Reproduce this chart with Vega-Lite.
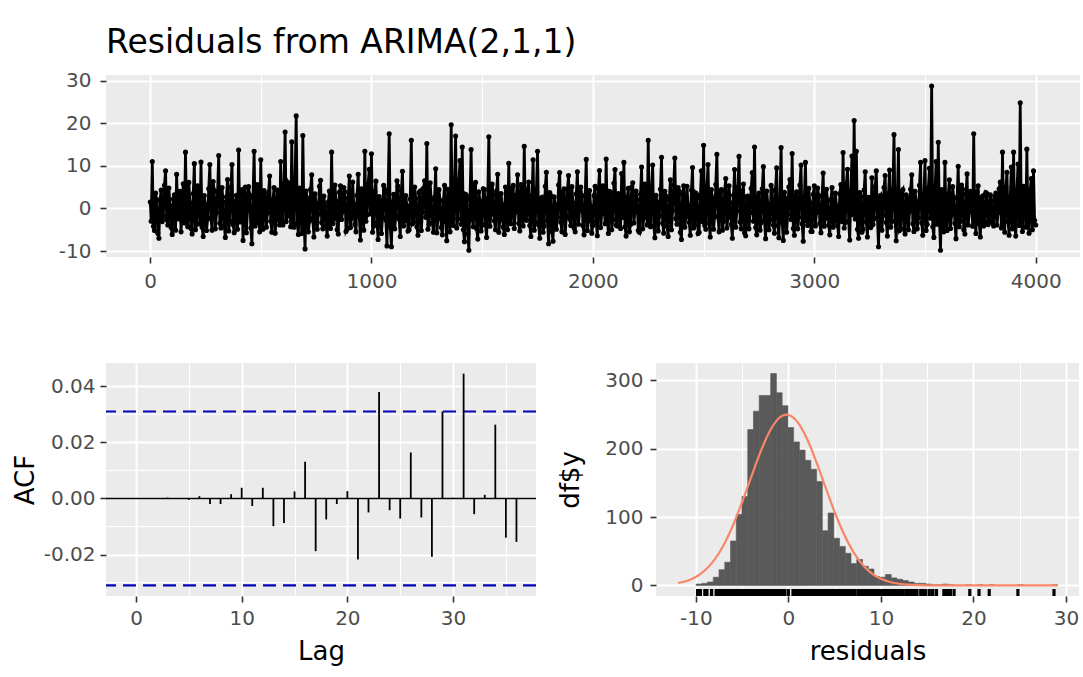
{
  "$schema": "https://vega.github.io/schema/vega-lite/v6.json",
  "background": "white",
  "padding": {"left": 4, "top": 26, "right": 3, "bottom": 5},
  "datasets": {
    "res": [
      {"t":1,"r":1.5},
      {"t":10,"r":11.0},{"t":20,"r":-5.2},{"t":30,"r":2.1},{"t":40,"r":-7.0},{"t":50,"r":4.3},{"t":60,"r":-1.8},{"t":70,"r":8.8},{"t":80,"r":-3.9},{"t":90,"r":0.7},{"t":100,"r":-6.1},
      {"t":110,"r":3.2},{"t":120,"r":8.0},{"t":130,"r":-2.5},{"t":140,"r":-5.5},{"t":150,"r":5.8},{"t":160,"r":13.2},{"t":170,"r":-4.3},{"t":180,"r":1.4},{"t":190,"r":-6.0},{"t":200,"r":10.5},
      {"t":210,"r":-3.8},{"t":220,"r":2.7},{"t":230,"r":10.9},{"t":240,"r":-6.6},{"t":250,"r":0.9},{"t":260,"r":-2.5},{"t":270,"r":10.3},{"t":280,"r":-5.1},{"t":290,"r":4.2},{"t":300,"r":-1.0},
      {"t":310,"r":12.4},{"t":320,"r":-4.6},{"t":330,"r":1.5},{"t":340,"r":-6.8},{"t":350,"r":6.8},{"t":360,"r":-2.9},{"t":370,"r":10.3},{"t":380,"r":-5.7},{"t":390,"r":3.1},{"t":400,"r":13.7},
      {"t":410,"r":-2.2},{"t":420,"r":-7.5},{"t":430,"r":5.0},{"t":440,"r":-0.4},{"t":450,"r":3.2},{"t":460,"r":-8.3},{"t":470,"r":13.4},{"t":480,"r":-3.3},{"t":490,"r":1.6},{"t":500,"r":11.4},
      {"t":510,"r":-4.9},{"t":520,"r":2.8},{"t":530,"r":-1.1},{"t":540,"r":7.6},{"t":550,"r":-5.6},{"t":560,"r":4.9},{"t":570,"r":-2.7},{"t":580,"r":0.0},{"t":590,"r":11.0},{"t":600,"r":-3.9},
      {"t":610,"r":17.9},{"t":620,"r":-1.8},{"t":630,"r":5.5},{"t":640,"r":15.6},{"t":650,"r":-4.4},{"t":660,"r":21.7},{"t":670,"r":-6.1},{"t":680,"r":3.1},{"t":690,"r":17.1},{"t":700,"r":-9.5},
      {"t":710,"r":2.4},{"t":720,"r":-3.0},{"t":730,"r":7.9},{"t":740,"r":-6.7},{"t":750,"r":1.2},{"t":760,"r":-1.3},{"t":770,"r":6.6},{"t":780,"r":-4.8},{"t":790,"r":0.5},{"t":800,"r":-6.5},
      {"t":810,"r":4.1},{"t":820,"r":13.2},{"t":830,"r":-2.4},{"t":840,"r":1.7},{"t":850,"r":-6.0},{"t":860,"r":5.3},{"t":870,"r":-0.7},{"t":880,"r":3.9},{"t":890,"r":-4.9},{"t":900,"r":7.6},
      {"t":910,"r":-2.3},{"t":920,"r":1.1},{"t":930,"r":-5.5},{"t":940,"r":8.0},{"t":950,"r":-7.4},{"t":960,"r":2.2},{"t":970,"r":13.4},{"t":980,"r":-1.5},{"t":990,"r":9.2},{"t":1000,"r":12.8},
      {"t":1010,"r":-4.1},{"t":1020,"r":6.4},{"t":1030,"r":-7.3},{"t":1040,"r":1.9},{"t":1050,"r":-2.0},{"t":1060,"r":4.5},{"t":1070,"r":-8.8},{"t":1080,"r":17.5},{"t":1090,"r":-9.0},{"t":1100,"r":3.3},
      {"t":1110,"r":-1.7},{"t":1120,"r":5.2},{"t":1130,"r":-6.6},{"t":1140,"r":8.7},{"t":1150,"r":-2.9},{"t":1160,"r":0.6},{"t":1170,"r":-5.0},{"t":1180,"r":16.0},{"t":1190,"r":-3.2},{"t":1200,"r":2.4},
      {"t":1210,"r":-6.3},{"t":1220,"r":4.1},{"t":1230,"r":-0.9},{"t":1240,"r":6.5},{"t":1250,"r":15.2},{"t":1260,"r":-3.8},{"t":1270,"r":2.0},{"t":1280,"r":-5.6},{"t":1290,"r":9.3},{"t":1300,"r":-2.4},
      {"t":1310,"r":1.8},{"t":1320,"r":-6.2},{"t":1330,"r":5.4},{"t":1340,"r":-7.6},{"t":1350,"r":2.6},{"t":1360,"r":19.6},{"t":1370,"r":-4.0},{"t":1380,"r":17.0},{"t":1390,"r":-2.5},{"t":1400,"r":11.2},
      {"t":1410,"r":14.4},{"t":1420,"r":-7.8},{"t":1430,"r":3.0},{"t":1440,"r":-9.8},{"t":1450,"r":13.8},{"t":1460,"r":-4.3},{"t":1470,"r":6.1},{"t":1480,"r":-7.2},{"t":1490,"r":1.7},{"t":1500,"r":-3.9},
      {"t":1510,"r":4.4},{"t":1520,"r":-6.8},{"t":1530,"r":16.8},{"t":1540,"r":-1.4},{"t":1550,"r":3.2},{"t":1560,"r":-5.0},{"t":1570,"r":8.0},{"t":1580,"r":-2.8},{"t":1590,"r":0.9},{"t":1600,"r":-6.1},
      {"t":1610,"r":2.3},{"t":1620,"r":10.6},{"t":1630,"r":-3.6},{"t":1640,"r":5.4},{"t":1650,"r":-0.9},{"t":1660,"r":7.9},{"t":1670,"r":-5.3},{"t":1680,"r":1.5},{"t":1690,"r":14.6},{"t":1700,"r":-2.8},
      {"t":1710,"r":6.2},{"t":1720,"r":-6.6},{"t":1730,"r":11.4},{"t":1740,"r":-3.2},{"t":1750,"r":13.4},{"t":1760,"r":-7.0},{"t":1770,"r":2.6},{"t":1780,"r":-4.1},{"t":1790,"r":8.5},{"t":1800,"r":-8.3},
      {"t":1810,"r":3.0},{"t":1820,"r":-7.7},{"t":1830,"r":0.8},{"t":1840,"r":-2.1},{"t":1850,"r":8.4},{"t":1860,"r":-5.5},{"t":1870,"r":4.6},{"t":1880,"r":-1.7},{"t":1890,"r":7.7},{"t":1900,"r":-4.0},
      {"t":1910,"r":1.3},{"t":1920,"r":-5.5},{"t":1930,"r":8.6},{"t":1940,"r":-0.4},{"t":1950,"r":3.1},{"t":1960,"r":-6.2},{"t":1970,"r":11.5},{"t":1980,"r":-2.9},{"t":1990,"r":0.6},{"t":2000,"r":-4.0},
      {"t":2010,"r":5.2},{"t":2020,"r":-6.4},{"t":2030,"r":8.9},{"t":2040,"r":-1.3},{"t":2050,"r":2.4},{"t":2060,"r":11.6},{"t":2070,"r":-5.9},{"t":2080,"r":3.8},{"t":2090,"r":-2.7},{"t":2100,"r":9.1},
      {"t":2110,"r":-4.1},{"t":2120,"r":1.4},{"t":2130,"r":8.2},{"t":2140,"r":10.8},{"t":2150,"r":-6.5},{"t":2160,"r":4.7},{"t":2170,"r":-3.8},{"t":2180,"r":6.0},{"t":2190,"r":-0.9},{"t":2200,"r":2.1},
      {"t":2210,"r":-5.6},{"t":2220,"r":9.7},{"t":2230,"r":-2.2},{"t":2240,"r":3.3},{"t":2250,"r":16.0},{"t":2260,"r":-4.3},{"t":2270,"r":10.2},{"t":2280,"r":-6.9},{"t":2290,"r":1.5},{"t":2300,"r":-1.8},
      {"t":2310,"r":12.0},{"t":2320,"r":-5.8},{"t":2330,"r":2.9},{"t":2340,"r":-6.6},{"t":2350,"r":6.7},{"t":2360,"r":-0.5},{"t":2370,"r":11.8},{"t":2380,"r":-3.7},{"t":2390,"r":4.0},{"t":2400,"r":-7.3},
      {"t":2410,"r":5.3},{"t":2420,"r":-2.0},{"t":2430,"r":0.8},{"t":2440,"r":-6.3},{"t":2450,"r":9.6},{"t":2460,"r":-3.9},{"t":2470,"r":3.2},{"t":2480,"r":-5.6},{"t":2490,"r":8.8},{"t":2500,"r":14.8},
      {"t":2510,"r":-4.9},{"t":2520,"r":10.3},{"t":2530,"r":-6.7},{"t":2540,"r":2.5},{"t":2550,"r":-1.8},{"t":2560,"r":12.7},{"t":2570,"r":-5.5},{"t":2580,"r":4.4},{"t":2590,"r":-3.1},{"t":2600,"r":7.0},
      {"t":2610,"r":-2.2},{"t":2620,"r":1.3},{"t":2630,"r":-7.0},{"t":2640,"r":9.1},{"t":2650,"r":-0.6},{"t":2660,"r":12.2},{"t":2670,"r":-4.8},{"t":2680,"r":5.7},{"t":2690,"r":-6.4},{"t":2700,"r":2.9},
      {"t":2710,"r":-1.0},{"t":2720,"r":8.4},{"t":2730,"r":14.4},{"t":2740,"r":-6.2},{"t":2750,"r":3.6},{"t":2760,"r":-3.3},{"t":2770,"r":9.8},{"t":2780,"r":-7.1},{"t":2790,"r":1.0},{"t":2800,"r":-2.7},
      {"t":2810,"r":4.2},{"t":2820,"r":-5.8},{"t":2830,"r":9.5},{"t":2840,"r":-6.9},{"t":2850,"r":14.3},{"t":2860,"r":-7.5},{"t":2870,"r":2.3},{"t":2880,"r":-1.4},{"t":2890,"r":6.8},{"t":2900,"r":12.9},
      {"t":2910,"r":-6.3},{"t":2920,"r":3.9},{"t":2930,"r":-2.1},{"t":2940,"r":10.2},{"t":2950,"r":-7.7},{"t":2960,"r":10.8},{"t":2970,"r":-4.0},{"t":2980,"r":1.4},{"t":2990,"r":-5.4},{"t":3000,"r":5.3},
      {"t":3010,"r":-0.9},{"t":3020,"r":3.0},{"t":3030,"r":-5.7},{"t":3040,"r":8.3},{"t":3050,"r":-2.3},{"t":3060,"r":1.8},{"t":3070,"r":-6.2},{"t":3080,"r":4.9},{"t":3090,"r":-3.0},{"t":3100,"r":0.7},
      {"t":3110,"r":-6.6},{"t":3120,"r":5.6},{"t":3130,"r":13.1},{"t":3140,"r":-3.3},{"t":3150,"r":9.2},{"t":3160,"r":-7.4},{"t":3170,"r":12.3},{"t":3180,"r":20.6},{"t":3190,"r":13.4},{"t":3200,"r":-7.0},
      {"t":3210,"r":2.8},{"t":3220,"r":-4.9},{"t":3230,"r":8.6},{"t":3240,"r":-6.7},{"t":3250,"r":1.7},{"t":3260,"r":7.2},{"t":3270,"r":-2.4},{"t":3280,"r":8.8},{"t":3290,"r":-9.0},{"t":3300,"r":3.1},
      {"t":3310,"r":-1.6},{"t":3320,"r":7.7},{"t":3330,"r":-6.5},{"t":3340,"r":9.0},{"t":3350,"r":-3.0},{"t":3360,"r":17.3},{"t":3370,"r":-7.6},{"t":3380,"r":13.8},{"t":3390,"r":-4.8},{"t":3400,"r":4.4},
      {"t":3410,"r":-6.0},{"t":3420,"r":2.5},{"t":3430,"r":-0.7},{"t":3440,"r":7.9},{"t":3450,"r":-5.4},{"t":3460,"r":1.6},{"t":3470,"r":-2.2},{"t":3480,"r":10.8},{"t":3490,"r":-6.3},{"t":3500,"r":11.2},
      {"t":3510,"r":-3.7},{"t":3520,"r":9.4},{"t":3530,"r":28.7},{"t":3540,"r":-6.8},{"t":3550,"r":11.0},{"t":3560,"r":15.5},{"t":3570,"r":-9.8},{"t":3580,"r":3.1},{"t":3590,"r":10.8},{"t":3600,"r":-5.2},
      {"t":3610,"r":6.7},{"t":3620,"r":-1.5},{"t":3630,"r":2.3},{"t":3640,"r":-7.1},{"t":3650,"r":9.9},{"t":3660,"r":-3.0},{"t":3670,"r":4.5},{"t":3680,"r":-6.0},{"t":3690,"r":8.1},{"t":3700,"r":-0.8},
      {"t":3710,"r":2.6},{"t":3720,"r":17.5},{"t":3730,"r":-5.9},{"t":3740,"r":5.3},{"t":3750,"r":-6.7},{"t":3760,"r":2.9},{"t":3770,"r":-3.2},{"t":3780,"r":3.4},{"t":3790,"r":-2.9},{"t":3800,"r":1.8},
      {"t":3810,"r":-4.1},{"t":3820,"r":3.6},{"t":3830,"r":-1.0},{"t":3840,"r":6.2},{"t":3850,"r":13.2},{"t":3860,"r":-5.6},{"t":3870,"r":8.5},{"t":3880,"r":-6.3},{"t":3890,"r":9.7},{"t":3900,"r":13.2},
      {"t":3910,"r":-6.5},{"t":3920,"r":10.4},{"t":3930,"r":24.8},{"t":3940,"r":-5.4},{"t":3950,"r":4.6},{"t":3960,"r":13.9},{"t":3970,"r":-5.8},{"t":3980,"r":7.0},{"t":3990,"r":8.8},{"t":4000,"r":-3.9},
      {"t":5,"r":-3.0},
      {"t":15,"r":-4.2},{"t":25,"r":3.6},{"t":35,"r":-5.8},{"t":45,"r":1.9},{"t":55,"r":-3.1},{"t":65,"r":5.4},{"t":75,"r":-2.6},{"t":85,"r":4.8},{"t":95,"r":-4.5},{"t":105,"r":2.2},
      {"t":115,"r":-5.1},{"t":125,"r":-1.2},{"t":135,"r":4.0},{"t":145,"r":0.8},{"t":155,"r":-3.4},{"t":165,"r":-2.0},{"t":175,"r":6.1},{"t":185,"r":-4.7},{"t":195,"r":3.5},{"t":205,"r":-5.0},
      {"t":215,"r":5.3},{"t":225,"r":-3.6},{"t":235,"r":-4.4},{"t":245,"r":3.0},{"t":255,"r":-5.2},{"t":265,"r":4.6},{"t":275,"r":-2.2},{"t":285,"r":6.3},{"t":295,"r":-4.8},{"t":305,"r":3.9},
      {"t":315,"r":-3.5},{"t":325,"r":4.9},{"t":335,"r":-4.0},{"t":345,"r":2.7},{"t":355,"r":-5.3},{"t":365,"r":5.0},{"t":375,"r":-3.8},{"t":385,"r":1.6},{"t":395,"r":-4.9},{"t":405,"r":-3.2},
      {"t":415,"r":4.4},{"t":425,"r":3.3},{"t":435,"r":-5.7},{"t":445,"r":5.1},{"t":455,"r":-4.6},{"t":465,"r":2.5},{"t":475,"r":-4.1},{"t":485,"r":5.6},{"t":495,"r":-5.5},{"t":505,"r":-2.9},
      {"t":515,"r":4.2},{"t":525,"r":-4.4},{"t":535,"r":3.7},{"t":545,"r":-3.0},{"t":555,"r":2.0},{"t":565,"r":-5.8},{"t":575,"r":4.3},{"t":585,"r":-3.9},{"t":595,"r":-2.4},{"t":605,"r":5.7},
      {"t":615,"r":-3.1},{"t":625,"r":6.0},{"t":635,"r":-4.3},{"t":645,"r":-2.7},{"t":655,"r":7.2},{"t":665,"r":-3.5},{"t":675,"r":4.8},{"t":685,"r":-5.9},{"t":695,"r":-1.9},{"t":705,"r":4.1},
      {"t":715,"r":-5.5},{"t":725,"r":4.5},{"t":735,"r":-2.3},{"t":745,"r":3.4},{"t":755,"r":-4.9},{"t":765,"r":5.2},{"t":775,"r":-3.3},{"t":785,"r":2.9},{"t":795,"r":-4.0},{"t":805,"r":1.5},
      {"t":815,"r":-4.7},{"t":825,"r":-3.6},{"t":835,"r":5.5},{"t":845,"r":-5.0},{"t":855,"r":3.8},{"t":865,"r":-2.6},{"t":875,"r":4.9},{"t":885,"r":-5.4},{"t":895,"r":2.4},{"t":905,"r":-4.5},
      {"t":915,"r":6.2},{"t":925,"r":-3.8},{"t":935,"r":3.1},{"t":945,"r":-2.0},{"t":955,"r":4.6},{"t":965,"r":-5.1},{"t":975,"r":-3.0},{"t":985,"r":5.8},{"t":995,"r":-1.3},{"t":1005,"r":-5.6},
      {"t":1015,"r":4.0},{"t":1025,"r":-3.4},{"t":1035,"r":2.8},{"t":1045,"r":-5.9},{"t":1055,"r":5.4},{"t":1065,"r":-2.7},{"t":1075,"r":3.6},{"t":1085,"r":-4.4},{"t":1095,"r":1.2},{"t":1105,"r":-4.8},
      {"t":1115,"r":6.5},{"t":1125,"r":-2.5},{"t":1135,"r":4.2},{"t":1145,"r":-4.1},{"t":1155,"r":3.0},{"t":1165,"r":-5.3},{"t":1175,"r":2.2},{"t":1185,"r":-3.6},{"t":1195,"r":5.0},{"t":1205,"r":-4.3},
      {"t":1215,"r":3.7},{"t":1225,"r":-5.2},{"t":1235,"r":4.7},{"t":1245,"r":-2.1},{"t":1255,"r":-4.9},{"t":1265,"r":6.0},{"t":1275,"r":-3.3},{"t":1285,"r":2.6},{"t":1295,"r":-5.7},{"t":1305,"r":4.4},
      {"t":1315,"r":-4.5},{"t":1325,"r":1.9},{"t":1335,"r":-3.0},{"t":1345,"r":4.5},{"t":1355,"r":-5.5},{"t":1365,"r":-2.8},{"t":1375,"r":5.9},{"t":1385,"r":-4.6},{"t":1395,"r":6.6},{"t":1405,"r":-3.7},
      {"t":1415,"r":-5.0},{"t":1425,"r":3.3},{"t":1435,"r":-6.0},{"t":1445,"r":2.1},{"t":1455,"r":-2.6},{"t":1465,"r":5.3},{"t":1475,"r":-4.8},{"t":1485,"r":3.9},{"t":1495,"r":-5.3},{"t":1505,"r":4.6},
      {"t":1515,"r":-3.8},{"t":1525,"r":2.4},{"t":1535,"r":-4.2},{"t":1545,"r":5.7},{"t":1555,"r":-2.9},{"t":1565,"r":4.1},{"t":1575,"r":-5.6},{"t":1585,"r":3.5},{"t":1595,"r":-4.4},{"t":1605,"r":5.0},
      {"t":1615,"r":-5.0},{"t":1625,"r":-2.2},{"t":1635,"r":4.8},{"t":1645,"r":-4.7},{"t":1655,"r":3.2},{"t":1665,"r":-3.5},{"t":1675,"r":5.6},{"t":1685,"r":-4.1},{"t":1695,"r":-2.0},{"t":1705,"r":4.3},
      {"t":1715,"r":-4.0},{"t":1725,"r":3.0},{"t":1735,"r":-5.1},{"t":1745,"r":4.4},{"t":1755,"r":-3.9},{"t":1765,"r":2.3},{"t":1775,"r":-5.6},{"t":1785,"r":5.2},{"t":1795,"r":-2.9},{"t":1805,"r":3.7},
      {"t":1815,"r":-5.4},{"t":1825,"r":2.7},{"t":1835,"r":-4.9},{"t":1845,"r":5.5},{"t":1855,"r":-3.2},{"t":1865,"r":3.9},{"t":1875,"r":-6.1},{"t":1885,"r":4.5},{"t":1895,"r":-2.5},{"t":1905,"r":5.1},
      {"t":1915,"r":-4.6},{"t":1925,"r":3.4},{"t":1935,"r":-3.7},{"t":1945,"r":5.0},{"t":1955,"r":-4.0},{"t":1965,"r":2.9},{"t":1975,"r":-5.2},{"t":1985,"r":4.2},{"t":1995,"r":-5.8},{"t":2005,"r":3.0},
      {"t":2015,"r":-3.1},{"t":2025,"r":4.6},{"t":2035,"r":-4.5},{"t":2045,"r":5.3},{"t":2055,"r":-3.6},{"t":2065,"r":-2.3},{"t":2075,"r":4.0},{"t":2085,"r":-5.0},{"t":2095,"r":5.9},{"t":2105,"r":-3.9},
      {"t":2115,"r":3.5},{"t":2125,"r":-4.7},{"t":2135,"r":-2.1},{"t":2145,"r":-4.3},{"t":2155,"r":2.6},{"t":2165,"r":-5.5},{"t":2175,"r":5.0},{"t":2185,"r":-3.4},{"t":2195,"r":4.1},{"t":2205,"r":-5.2},
      {"t":2215,"r":3.3},{"t":2225,"r":-4.8},{"t":2235,"r":5.7},{"t":2245,"r":-3.9},{"t":2255,"r":-2.7},{"t":2265,"r":4.8},{"t":2275,"r":-4.1},{"t":2285,"r":3.1},{"t":2295,"r":-5.3},{"t":2305,"r":4.5},
      {"t":2315,"r":-3.5},{"t":2325,"r":4.0},{"t":2335,"r":-4.2},{"t":2345,"r":2.0},{"t":2355,"r":-5.0},{"t":2365,"r":5.5},{"t":2375,"r":-2.4},{"t":2385,"r":4.9},{"t":2395,"r":-5.6},{"t":2405,"r":3.2},
      {"t":2415,"r":-4.4},{"t":2425,"r":5.2},{"t":2435,"r":-3.3},{"t":2445,"r":4.3},{"t":2455,"r":-4.6},{"t":2465,"r":3.6},{"t":2475,"r":-5.9},{"t":2485,"r":2.4},{"t":2495,"r":-3.1},{"t":2505,"r":-4.0},
      {"t":2515,"r":5.1},{"t":2525,"r":-3.4},{"t":2535,"r":4.4},{"t":2545,"r":-4.9},{"t":2555,"r":5.6},{"t":2565,"r":-2.0},{"t":2575,"r":3.7},{"t":2585,"r":-5.1},{"t":2595,"r":4.2},{"t":2605,"r":-4.6},
      {"t":2615,"r":5.3},{"t":2625,"r":-3.8},{"t":2635,"r":3.1},{"t":2645,"r":-4.4},{"t":2655,"r":5.0},{"t":2665,"r":-3.2},{"t":2675,"r":4.0},{"t":2685,"r":-5.7},{"t":2695,"r":2.8},{"t":2705,"r":-4.8},
      {"t":2715,"r":4.7},{"t":2725,"r":-3.0},{"t":2735,"r":-4.5},{"t":2745,"r":2.9},{"t":2755,"r":-5.1},{"t":2765,"r":4.6},{"t":2775,"r":-2.8},{"t":2785,"r":4.1},{"t":2795,"r":-5.0},{"t":2805,"r":5.4},
      {"t":2815,"r":-3.9},{"t":2825,"r":4.5},{"t":2835,"r":-4.0},{"t":2845,"r":2.2},{"t":2855,"r":-3.3},{"t":2865,"r":3.8},{"t":2875,"r":-5.6},{"t":2885,"r":5.0},{"t":2895,"r":-2.6},{"t":2905,"r":-4.7},
      {"t":2915,"r":3.0},{"t":2925,"r":-4.8},{"t":2935,"r":5.5},{"t":2945,"r":-3.6},{"t":2955,"r":2.4},{"t":2965,"r":-2.9},{"t":2975,"r":4.7},{"t":2985,"r":-5.4},{"t":2995,"r":3.3},{"t":3005,"r":-4.1},
      {"t":3015,"r":4.8},{"t":3025,"r":-3.5},{"t":3035,"r":2.9},{"t":3045,"r":-4.2},{"t":3055,"r":4.5},{"t":3065,"r":-3.9},{"t":3075,"r":2.1},{"t":3085,"r":-4.4},{"t":3095,"r":3.6},{"t":3105,"r":-4.0},
      {"t":3115,"r":3.4},{"t":3125,"r":-3.1},{"t":3135,"r":-4.6},{"t":3145,"r":5.8},{"t":3155,"r":-3.0},{"t":3165,"r":4.1},{"t":3175,"r":-1.5},{"t":3185,"r":-2.5},{"t":3195,"r":-4.9},{"t":3205,"r":3.7},
      {"t":3215,"r":-5.6},{"t":3225,"r":4.3},{"t":3235,"r":-3.2},{"t":3245,"r":2.6},{"t":3255,"r":-4.5},{"t":3265,"r":-3.8},{"t":3275,"r":5.1},{"t":3285,"r":-2.2},{"t":3295,"r":2.7},{"t":3305,"r":-5.1},
      {"t":3315,"r":4.9},{"t":3325,"r":-3.3},{"t":3335,"r":3.5},{"t":3345,"r":-4.4},{"t":3355,"r":4.6},{"t":3365,"r":-3.0},{"t":3375,"r":2.8},{"t":3385,"r":-5.2},{"t":3395,"r":3.9},{"t":3405,"r":-4.9},
      {"t":3415,"r":3.2},{"t":3425,"r":-5.0},{"t":3435,"r":4.5},{"t":3445,"r":-3.6},{"t":3455,"r":4.0},{"t":3465,"r":-4.8},{"t":3475,"r":5.4},{"t":3485,"r":-3.4},{"t":3495,"r":3.0},{"t":3505,"r":-5.2},
      {"t":3515,"r":4.8},{"t":3525,"r":-2.3},{"t":3535,"r":-4.3},{"t":3545,"r":3.6},{"t":3555,"r":-3.7},{"t":3565,"r":-2.1},{"t":3575,"r":4.4},{"t":3585,"r":-5.5},{"t":3595,"r":-3.0},{"t":3605,"r":3.3},
      {"t":3615,"r":-4.7},{"t":3625,"r":5.1},{"t":3635,"r":-3.5},{"t":3645,"r":2.6},{"t":3655,"r":-4.3},{"t":3665,"r":5.5},{"t":3675,"r":-5.0},{"t":3685,"r":3.4},{"t":3695,"r":-3.9},{"t":3705,"r":4.0},
      {"t":3715,"r":-4.2},{"t":3725,"r":-2.9},{"t":3735,"r":3.9},{"t":3745,"r":-3.6},{"t":3755,"r":2.5},{"t":3765,"r":-4.1},{"t":3775,"r":3.7},{"t":3785,"r":-3.8},{"t":3795,"r":3.2},{"t":3805,"r":-3.5},
      {"t":3815,"r":2.8},{"t":3825,"r":-3.9},{"t":3835,"r":4.6},{"t":3845,"r":-4.6},{"t":3855,"r":-2.6},{"t":3865,"r":4.9},{"t":3875,"r":-3.1},{"t":3885,"r":2.7},{"t":3895,"r":-4.8},{"t":3905,"r":-3.4},
      {"t":3915,"r":4.1},{"t":3925,"r":-4.0},{"t":3935,"r":-2.7},{"t":3945,"r":5.2},{"t":3955,"r":-4.4},{"t":3965,"r":-3.3},{"t":3975,"r":4.3},{"t":3985,"r":-5.0},{"t":3995,"r":-2.8}
    ],
    "acf": [
      {"lag":1,"acf":0.0001},{"lag":2,"acf":-0.0002},{"lag":3,"acf":0.0003},{"lag":4,"acf":0.0001},{"lag":5,"acf":-0.0005},{"lag":6,"acf":0.0008},
      {"lag":7,"acf":-0.0020},{"lag":8,"acf":-0.0020},{"lag":9,"acf":0.0015},{"lag":10,"acf":0.0038},{"lag":11,"acf":-0.0027},{"lag":12,"acf":0.0038},
      {"lag":13,"acf":-0.0099},{"lag":14,"acf":-0.0088},{"lag":15,"acf":0.0025},{"lag":16,"acf":0.0131},{"lag":17,"acf":-0.0188},{"lag":18,"acf":-0.0075},
      {"lag":19,"acf":-0.0020},{"lag":20,"acf":0.0026},{"lag":21,"acf":-0.0218},{"lag":22,"acf":-0.0050},{"lag":23,"acf":0.0380},{"lag":24,"acf":-0.0042},
      {"lag":25,"acf":-0.0072},{"lag":26,"acf":0.0164},{"lag":27,"acf":-0.0068},{"lag":28,"acf":-0.0208},{"lag":29,"acf":0.0310},{"lag":30,"acf":0.0002},
      {"lag":31,"acf":0.0445},{"lag":32,"acf":-0.0056},{"lag":33,"acf":0.0013},{"lag":34,"acf":0.0263},{"lag":35,"acf":-0.0140},{"lag":36,"acf":-0.0155}
    ],
    "hist": [
      {"b0":-9.97,"b1":-9.35,"n":2},{"b0":-9.35,"b1":-8.73,"n":3},{"b0":-8.73,"b1":-8.11,"n":5},{"b0":-8.11,"b1":-7.49,"n":12},
      {"b0":-7.49,"b1":-6.87,"n":23},{"b0":-6.87,"b1":-6.25,"n":34},{"b0":-6.25,"b1":-5.63,"n":65},{"b0":-5.63,"b1":-5.01,"n":104},
      {"b0":-5.01,"b1":-4.39,"n":130},{"b0":-4.39,"b1":-3.77,"n":228},{"b0":-3.77,"b1":-3.15,"n":255},{"b0":-3.15,"b1":-2.53,"n":278},
      {"b0":-2.53,"b1":-1.91,"n":278},{"b0":-1.91,"b1":-1.29,"n":310},{"b0":-1.29,"b1":-0.67,"n":282},{"b0":-0.67,"b1":-0.05,"n":263},
      {"b0":-0.05,"b1":0.57,"n":231},{"b0":0.57,"b1":1.19,"n":210},{"b0":1.19,"b1":1.81,"n":198},{"b0":1.81,"b1":2.43,"n":183},
      {"b0":2.43,"b1":3.05,"n":170},{"b0":3.05,"b1":3.67,"n":152},{"b0":3.67,"b1":4.29,"n":80},{"b0":4.29,"b1":4.91,"n":106},
      {"b0":4.91,"b1":5.53,"n":69},{"b0":5.53,"b1":6.15,"n":57},{"b0":6.15,"b1":6.77,"n":47},{"b0":6.77,"b1":7.39,"n":32},
      {"b0":7.39,"b1":8.01,"n":38},{"b0":8.01,"b1":8.63,"n":28},{"b0":8.63,"b1":9.25,"n":24},{"b0":9.25,"b1":9.87,"n":13},
      {"b0":9.87,"b1":10.49,"n":12},{"b0":10.49,"b1":11.11,"n":16},{"b0":11.11,"b1":11.73,"n":11},{"b0":11.73,"b1":12.35,"n":9},
      {"b0":12.35,"b1":12.97,"n":7},{"b0":12.97,"b1":13.59,"n":5},{"b0":13.59,"b1":14.21,"n":3},{"b0":14.21,"b1":14.83,"n":3},
      {"b0":14.83,"b1":15.45,"n":2},{"b0":15.45,"b1":16.07,"n":1},{"b0":16.07,"b1":16.69,"n":1},{"b0":16.69,"b1":17.31,"n":2},
      {"b0":17.31,"b1":17.93,"n":1},{"b0":19.17,"b1":19.79,"n":1},{"b0":20.41,"b1":21.03,"n":1},{"b0":21.65,"b1":22.27,"n":1},
      {"b0":24.75,"b1":25.37,"n":1},{"b0":28.47,"b1":29.09,"n":1}
    ],
    "norm": [
      {"nx":-11.9,"ny":3.5},{"nx":-11,"ny":6.5},{"nx":-10,"ny":12.4},{"nx":-9,"ny":22.2},{"nx":-8,"ny":37.3},{"nx":-7,"ny":58.9},
      {"nx":-6,"ny":87.4},{"nx":-5,"ny":121.7},{"nx":-4,"ny":159.2},{"nx":-3,"ny":195.7},{"nx":-2,"ny":226.0},{"nx":-1,"ny":245.0},
      {"nx":-0.2,"ny":250.0},{"nx":1,"ny":239.0},{"nx":2,"ny":214.9},{"nx":3,"ny":181.5},{"nx":4,"ny":144.1},{"nx":5,"ny":107.4},
      {"nx":6,"ny":75.2},{"nx":7,"ny":49.5},{"nx":8,"ny":30.6},{"nx":9,"ny":17.7},{"nx":10,"ny":9.7},{"nx":11,"ny":5.0},
      {"nx":12,"ny":2.4},{"nx":13,"ny":1.1},{"nx":14,"ny":0.46},{"nx":15,"ny":0.18},{"nx":16,"ny":0.07},{"nx":17,"ny":0.02},
      {"nx":20,"ny":0},{"nx":25,"ny":0},{"nx":29.1,"ny":0}
    ],
    "acfminor": [{"level":-0.03},{"level":-0.01},{"level":0.01},{"level":0.03}],
    "acfzero": [{"level":0}],
    "acfband": [{"level":0.031},{"level":-0.031}]
  },
  "vconcat": [
    {
      "title": {"text": "Residuals from ARIMA(2,1,1)"},
      "width": 974,
      "height": 182,
      "data": {"name": "res"},
      "layer": [
        {
          "mark": {"type": "line", "color": "#000000", "strokeWidth": 2.8},
          "encoding": {
            "x": {"field": "t", "type": "quantitative", "title": null,
              "scale": {"domain": [-199, 4200], "nice": false, "zero": false},
              "axis": {"values": [0,500,1000,1500,2000,2500,3000,3500,4000], "format": "d",
                "labelExpr": "datum.value % 1000 === 0 ? datum.label : ''",
                "gridWidth": {"condition": {"test": "datum.value % 1000 === 0", "value": 2}, "value": 1},
                "tickOpacity": {"condition": {"test": "datum.value % 1000 === 0", "value": 1}, "value": 0},
                "labelPadding": 8}},
            "y": {"field": "r", "type": "quantitative", "title": null,
              "scale": {"domain": [-11.4, 31.3], "nice": false, "zero": false},
              "axis": {"values": [-10,-5,0,5,10,15,20,25,30], "format": "d",
                "labelExpr": "datum.value % 10 === 0 ? datum.label : ''",
                "gridWidth": {"condition": {"test": "datum.value % 10 === 0", "value": 2}, "value": 1},
                "tickOpacity": {"condition": {"test": "datum.value % 10 === 0", "value": 1}, "value": 0},
                "labelPadding": 9, "minExtent": 102, "maxExtent": 102}}
          }
        },
        {
          "mark": {"type": "point", "filled": true, "color": "#000000", "size": 26, "opacity": 1},
          "encoding": {
            "x": {"field": "t", "type": "quantitative", "title": null},
            "y": {"field": "r", "type": "quantitative", "title": null}
          }
        }
      ]
    },
    {
      "hconcat": [
        {
          "width": 430,
          "height": 233,
          "layer": [
            {
              "data": {"name": "acfminor"},
              "mark": {"type": "rule", "color": "#FFFFFF", "strokeWidth": 1},
              "encoding": {
                "y": {"field": "level", "type": "quantitative", "title": "ACF"}
              }
            },
            {
              "data": {"name": "acfzero"},
              "mark": {"type": "rule", "color": "#000000", "strokeWidth": 1.6},
              "encoding": {
                "y": {"field": "level", "type": "quantitative", "title": "ACF"}
              }
            },
            {
              "data": {"name": "acfband"},
              "mark": {"type": "rule", "color": "#0505B4", "strokeWidth": 2.2, "strokeDash": [13, 7]},
              "encoding": {
                "y": {"field": "level", "type": "quantitative", "title": "ACF"}
              }
            },
            {
              "data": {"name": "acf"},
              "mark": {"type": "rule", "color": "#000000", "strokeWidth": 1.8},
              "encoding": {
                "x": {"field": "lag", "type": "quantitative", "title": "Lag",
                  "scale": {"domain": [-2.84, 37.85], "nice": false, "zero": false},
                  "axis": {"values": [0,5,10,15,20,25,30,35], "format": "d",
                    "labelExpr": "datum.value % 10 === 0 ? datum.label : ''",
                    "gridWidth": {"condition": {"test": "datum.value % 10 === 0", "value": 2}, "value": 1},
                    "tickOpacity": {"condition": {"test": "datum.value % 10 === 0", "value": 1}, "value": 0},
                    "labelPadding": 6, "titlePadding": 10}},
                "y": {"field": "acf", "type": "quantitative", "title": "ACF",
                  "scale": {"domain": [-0.0348, 0.0483], "nice": false, "zero": false},
                  "axis": {"values": [-0.02, 0, 0.02, 0.04], "format": ".2f", "gridWidth": 2,
                    "labelPadding": 5, "titlePadding": 5}},
                "y2": {"datum": 0}
              }
            }
          ]
        },
        {
          "width": 423,
          "height": 233,
          "layer": [
            {
              "data": {"name": "hist"},
              "mark": {"type": "rect", "color": "#595959", "stroke": "#595959", "strokeWidth": 0.6},
              "encoding": {
                "x": {"field": "b0", "type": "quantitative", "title": "residuals",
                  "scale": {"domain": [-14.3, 31.4], "nice": false, "zero": false},
                  "axis": {"values": [-10,-5,0,5,10,15,20,25,30], "format": "d",
                    "labelExpr": "datum.value % 10 === 0 ? datum.label : ''",
                    "gridWidth": {"condition": {"test": "datum.value % 10 === 0", "value": 2}, "value": 1},
                    "tickOpacity": {"condition": {"test": "datum.value % 10 === 0", "value": 1}, "value": 0},
                    "labelPadding": 6, "titlePadding": 10}},
                "x2": {"field": "b1"},
                "y": {"field": "n", "type": "quantitative", "title": "df$y",
                  "scale": {"domain": [-15.5, 325.5], "nice": false, "zero": false},
                  "axis": {"values": [0,50,100,150,200,250,300], "format": "d",
                    "labelExpr": "datum.value % 100 === 0 ? datum.label : ''",
                    "gridWidth": {"condition": {"test": "datum.value % 100 === 0", "value": 2}, "value": 1},
                    "tickOpacity": {"condition": {"test": "datum.value % 100 === 0", "value": 1}, "value": 0},
                    "labelPadding": 7, "titlePadding": 21}},
                "y2": {"datum": 0}
              }
            },
            {
              "data": {"name": "norm"},
              "mark": {"type": "line", "color": "#f8876a", "strokeWidth": 2.2, "interpolate": "monotone"},
              "encoding": {
                "x": {"field": "nx", "type": "quantitative", "title": "residuals"},
                "y": {"field": "ny", "type": "quantitative", "title": "df$y"}
              }
            },
            {
              "data": {"name": "res"},
              "mark": {"type": "rule", "color": "#000000", "strokeWidth": 3.2},
              "encoding": {
                "x": {"field": "r", "type": "quantitative", "title": "residuals"},
                "y": {"datum": -15.5},
                "y2": {"datum": -5.3}
              }
            }
          ]
        }
      ],
      "spacing": 19
    }
  ],
  "spacing": 72,
  "config": {
    "font": "DejaVu Sans",
    "view": {"fill": "#EBEBEB", "stroke": null},
    "axis": {
      "domain": false,
      "labelFont": "DejaVu Sans", "labelFontSize": 20, "labelColor": "#4D4D4D",
      "tickColor": "#333333", "tickSize": 6, "tickWidth": 1.6,
      "gridColor": "#FFFFFF",
      "titleFont": "DejaVu Sans", "titleFontSize": 26, "titleFontWeight": "normal", "titleColor": "#000000",
      "labelFlush": false, "labelOverlap": false, "labelBound": false
    },
    "title": {"font": "DejaVu Sans", "fontSize": 33, "fontWeight": "normal", "color": "#000000", "anchor": "start", "frame": "group", "offset": 11},
    "locale": {"number": {"decimal": ".", "thousands": "", "grouping": [3], "currency": ["$", ""], "minus": "-"}}
  }
}
